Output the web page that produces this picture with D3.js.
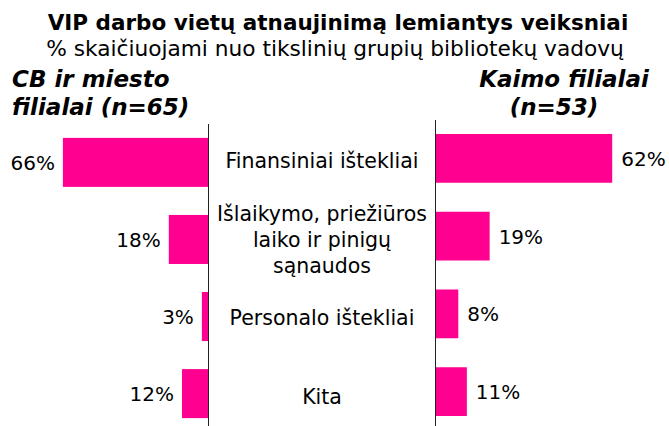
<!DOCTYPE html>
<html>
<head>
<meta charset="utf-8">
<script src="https://cdn.jsdelivr.net/npm/d3@7"></script>
<style>
  body { margin: 0; background: #fff; }
  svg { display: block; font-family: "DejaVu Sans", Verdana, sans-serif; }
</style>
</head>
<body>
<div class="vis-chart"></div>
<script>
const categories = [
  ["Finansiniai ištekliai"],
  ["Išlaikymo, priežiūros", "laiko ir pinigų", "sąnaudos"],
  ["Personalo ištekliai"],
  ["Kita"]
];
const cityValues = [66, 18, 3, 12];     // CB ir miesto filialai (n=65)
const villageValues = [62, 19, 8, 11];  // Kaimo filialai (n=53)

const draw = () => {
    const width = 669, height = 426;
    const pink = "#ff0090";

    let svg = d3.select(".vis-chart")
                .append("svg")
                .attr("width", width)
                .attr("height", height);

    const idx = d3.range(categories.length);

    // left side (city), bars grow to the left
    let xLeft = d3.scaleLinear().domain([0, 100]).range([208.5, 208.5 - 220.6]);
    let yLeft = d3.scaleBand().domain(idx).range([124, 432])
                  .paddingInner(0.364).paddingOuter(0.18);

    // right side (village), bars grow to the right
    let xRight = d3.scaleLinear().domain([0, 100]).range([435.5, 435.5 + 285]);
    let yRight = d3.scaleBand().domain(idx).range([120, 430])
                   .paddingInner(0.373).paddingOuter(0.18);

    // middle labels sit on their own points
    let yMid = d3.scalePoint().domain(idx).range([161.5, 397]);

    // titles
    svg.append("text")
        .attr("x", 338).attr("y", 30)
        .attr("text-anchor", "middle")
        .style("font-weight", "bold").style("font-size", "21.5px")
        .text("VIP darbo vietų atnaujinimą lemiantys veiksniai");
    svg.append("text")
        .attr("x", 335).attr("y", 56)
        .attr("text-anchor", "middle")
        .style("font-size", "21.7px")
        .text("% skaičiuojami nuo tikslinių grupių bibliotekų vadovų");

    let lt = svg.append("text")
        .attr("x", 12).attr("y", 87)
        .style("font-weight", "bold").style("font-style", "italic").style("font-size", "23px");
    lt.append("tspan").attr("x", 12).text("CB ir miesto");
    lt.append("tspan").attr("x", 12).attr("dy", 28).text("filialai (n=65)");

    let rt = svg.append("text")
        .attr("y", 87).attr("text-anchor", "middle")
        .style("font-weight", "bold").style("font-style", "italic").style("font-size", "23px");
    rt.append("tspan").attr("x", 564).text("Kaimo filialai");
    rt.append("tspan").attr("x", 554).attr("dy", 28).text("(n=53)");

    // bars
    svg.append("g").selectAll("rect")
        .data(cityValues)
        .join("rect")
        .attr("x", d => xLeft(d))
        .attr("y", (d, i) => yLeft(i))
        .attr("width", d => xLeft(0) - xLeft(d))
        .attr("height", yLeft.bandwidth())
        .attr("fill", pink);

    svg.append("g").selectAll("rect")
        .data(villageValues)
        .join("rect")
        .attr("x", xRight(0))
        .attr("y", (d, i) => yRight(i))
        .attr("width", d => xRight(d) - xRight(0))
        .attr("height", yRight.bandwidth())
        .attr("fill", pink);

    // value labels
    svg.append("g").selectAll("text")
        .data(cityValues)
        .join("text")
        .attr("x", d => xLeft(d) - 8)
        .attr("y", (d, i) => yLeft(i) + yLeft.bandwidth() / 2 + 7.5)
        .attr("text-anchor", "end")
        .style("font-size", "20px")
        .text(d => d + "%");

    svg.append("g").selectAll("text")
        .data(villageValues)
        .join("text")
        .attr("x", d => xRight(d) + 9)
        .attr("y", (d, i) => yRight(i) + yRight.bandwidth() / 2 + 7.5)
        .style("font-size", "20px")
        .text(d => d + "%");

    // category labels in the middle
    const midX = (xLeft(0) + xRight(0)) / 2;
    let cat = svg.append("g").selectAll("text")
        .data(categories)
        .join("text")
        .attr("text-anchor", "middle")
        .style("font-size", "20.5px")
        .attr("y", (d, i) => yMid(i) + 6.5 - (d.length - 1) * 13);
    cat.selectAll("tspan")
        .data(d => d)
        .join("tspan")
        .attr("x", midX)
        .attr("dy", (d, i) => i === 0 ? 0 : 26)
        .text(d => d);

    // vertical axis lines
    svg.append("line")
        .attr("x1", xLeft(0)).attr("x2", xLeft(0))
        .attr("y1", 124).attr("y2", height)
        .attr("stroke", "#222").attr("stroke-width", 1);
    svg.append("line")
        .attr("x1", xRight(0)).attr("x2", xRight(0))
        .attr("y1", 120).attr("y2", height)
        .attr("stroke", "#222").attr("stroke-width", 1);
}

draw();
</script>
</body>
</html>
